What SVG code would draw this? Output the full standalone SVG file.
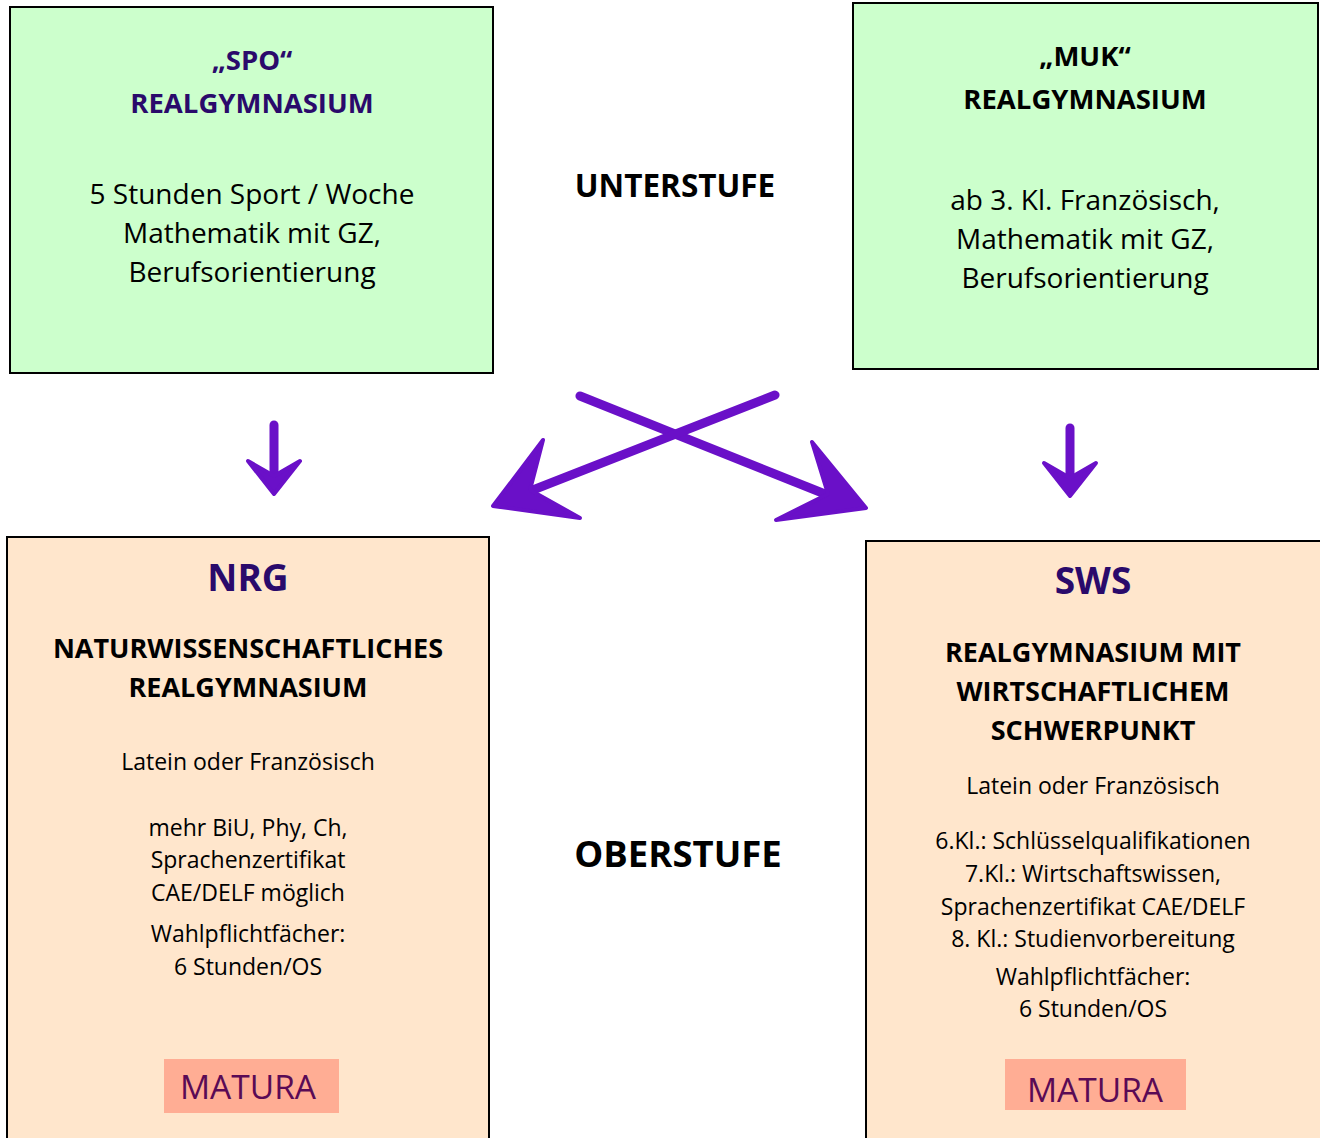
<svg xmlns="http://www.w3.org/2000/svg" width="1320" height="1138" viewBox="0 0 1320 1138">
<style>
text{font-family:"Open Sans","Noto Sans","Liberation Sans",sans-serif;text-anchor:middle}
.green{fill:#CCFFCC;stroke:#000;stroke-width:2}
.peach{fill:#FFE6CC;stroke:#000;stroke-width:2}
.t{font-weight:bold;font-size:27.5px;fill:#2A0A6B}
.h{font-weight:bold;font-size:27px;fill:#000}
.b{font-size:28px;fill:#000}
.s{font-size:23px;fill:#000}
.big{font-weight:bold;font-size:37px;fill:#2A0A6B}
.mat{fill:#FFAD94}
.mt{font-size:33.5px;fill:#5A0A55}
.arr{stroke:#6A10C8;stroke-width:9;stroke-linecap:round;fill:none}
.head{fill:#6A10C8;stroke:#6A10C8;stroke-width:4;stroke-linejoin:round}
</style>
<rect width="1320" height="1138" fill="#fff"/>
<g id="spo">
<rect class="green" x="10" y="7" width="483" height="366"/>
<text class="t" x="252" y="70">„SPO“</text>
<text class="t" x="252" y="113">REALGYMNASIUM</text>
<text class="b" x="252" y="204">5 Stunden Sport / Woche</text>
<text class="b" x="252" y="243">Mathematik mit GZ,</text>
<text class="b" x="252" y="282">Berufsorientierung</text>
</g>
<g id="muk">
<rect class="green" x="853" y="3" width="465" height="366"/>
<text class="h" x="1085" y="66" style="font-size:27.5px">„MUK“</text>
<text class="h" x="1085" y="109" style="font-size:27.5px">REALGYMNASIUM</text>
<text class="b" x="1085" y="210">ab 3. Kl. Französisch,</text>
<text class="b" x="1085" y="249">Mathematik mit GZ,</text>
<text class="b" x="1085" y="288">Berufsorientierung</text>
</g>
<g id="unterstufe">
<text class="h" x="675" y="197" style="font-size:31.5px">UNTERSTUFE</text>
</g>
<g id="oberstufe">
<text class="h" x="678" y="867" style="font-size:36.5px">OBERSTUFE</text>
</g>
<g id="nrg">
<rect class="peach" x="7" y="537" width="482" height="610"/>
<text class="big" x="248" y="591">NRG</text>
<text class="h" x="248" y="658">NATURWISSENSCHAFTLICHES</text>
<text class="h" x="248" y="697">REALGYMNASIUM</text>
<text class="s" x="248" y="770">Latein oder Französisch</text>
<text class="s" x="248" y="836">mehr BiU, Phy, Ch,</text>
<text class="s" x="248" y="868">Sprachenzertifikat</text>
<text class="s" x="248" y="901">CAE/DELF möglich</text>
<text class="s" x="248" y="942">Wahlpflichtfächer:</text>
<text class="s" x="248" y="975">6 Stunden/OS</text>
<rect class="mat" x="164" y="1059" width="175" height="54"/>
<text class="mt" x="248" y="1099">MATURA</text>
</g>
<g id="sws">
<rect class="peach" x="866" y="541" width="464" height="610"/>
<text class="big" x="1093" y="594">SWS</text>
<text class="h" x="1093" y="662">REALGYMNASIUM MIT</text>
<text class="h" x="1093" y="701">WIRTSCHAFTLICHEM</text>
<text class="h" x="1093" y="740">SCHWERPUNKT</text>
<text class="s" x="1093" y="794">Latein oder Französisch</text>
<text class="s" x="1093" y="849">6.Kl.: Schlüsselqualifikationen</text>
<text class="s" x="1093" y="882">7.Kl.: Wirtschaftswissen,</text>
<text class="s" x="1093" y="915">Sprachenzertifikat CAE/DELF</text>
<text class="s" x="1093" y="947">8. Kl.: Studienvorbereitung</text>
<text class="s" x="1093" y="985">Wahlpflichtfächer:</text>
<text class="s" x="1093" y="1017">6 Stunden/OS</text>
<rect class="mat" x="1005" y="1059" width="181" height="51"/>
<text class="mt" x="1095" y="1102">MATURA</text>
</g>
<g id="connectors">
<line class="arr" x1="274" y1="425" x2="274" y2="480"/>
<path class="head" d="M248,461 L274,494 L300,461 L274,476 Z"/>
<line class="arr" x1="1070" y1="428" x2="1070" y2="482"/>
<path class="head" d="M1044,463 L1070,496 L1096,463 L1070,478 Z"/>
<line class="arr" x1="580" y1="396" x2="840" y2="500"/>
<path class="head" d="M812,442 L866,508 L776,520 L828,494 Z"/>
<line class="arr" x1="775" y1="395" x2="515" y2="497"/>
<path class="head" d="M543,440 L493,506 L580,518 L530,490 Z"/>
</g>
</svg>
